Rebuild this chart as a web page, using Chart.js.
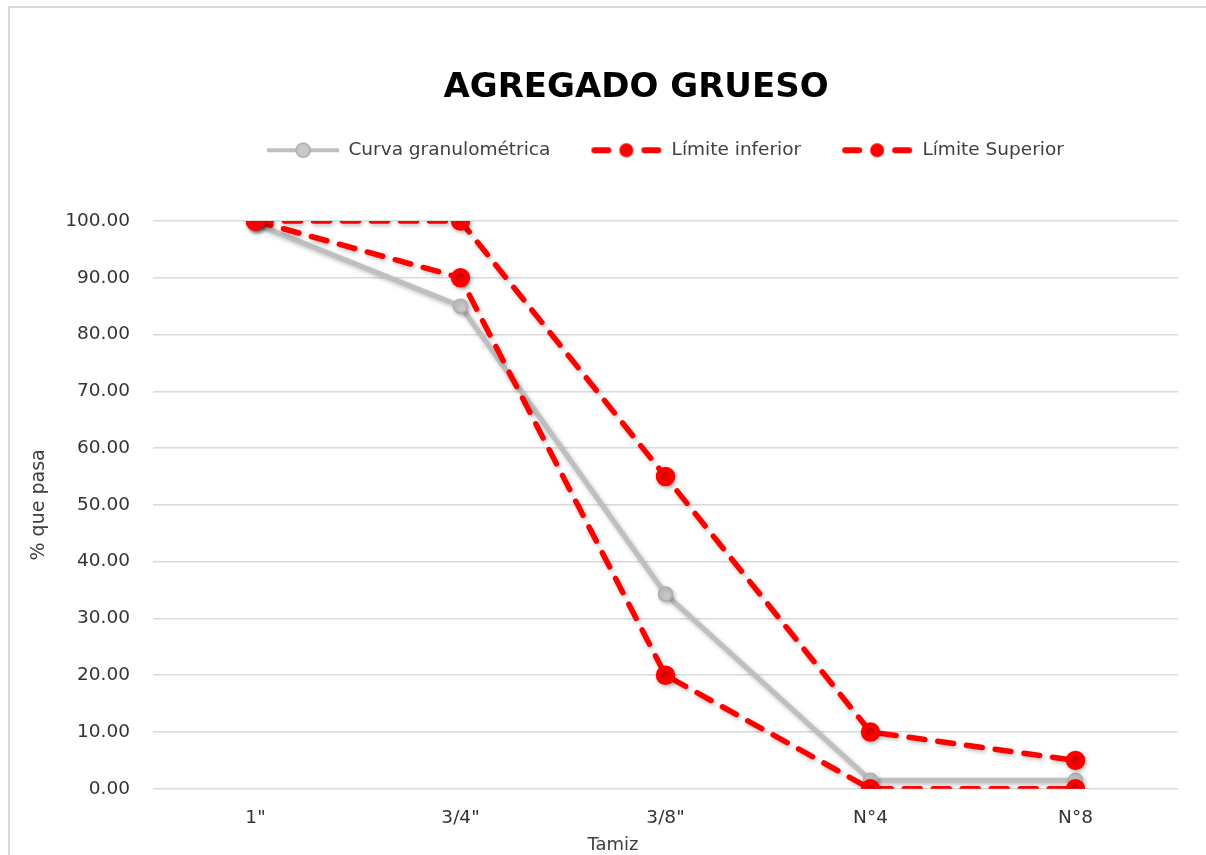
<!DOCTYPE html>
<html>
<head>
<meta charset="utf-8">
<script src="https://cdn.jsdelivr.net/npm/chart.js@4.4.1/dist/chart.umd.min.js"></script>
<style>
  html, body { margin: 0; padding: 0; background: #fff; overflow: hidden; }
  .wrap { position: relative; width: 1206px; height: 855px; overflow: hidden; }
  .frame {
    position: absolute; left: 8px; top: 6px; width: 1400px; height: 1200px;
    border-left: 2px solid #d9d9d9; border-top: 2px solid #d9d9d9;
    pointer-events: none;
  }
</style>
</head>
<body>
<div class="wrap">
  <canvas id="myChart"></canvas>
  <div class="frame"></div>
</div>
<script>
const categories = ['1"', '3/4"', '3/8"', 'N°4', 'N°8'];
const curva = [99.5, 85.0, 34.3, 1.5, 1.5];
const limiteInferior = [100, 90, 20, 0, 0];
const limiteSuperior = [100, 100, 55, 10, 5];
const yTicks = [0, 10, 20, 30, 40, 50, 60, 70, 80, 90, 100];

const FONT = 'DejaVu Sans';
const GRAY = '#bfbfbf';
const RED = '#ff0000';

// small legend icons: line + marker like excel
function makeIcon(color, dashed, fill) {
  const c = document.createElement('canvas');
  c.width = 72;
  c.height = 18;
  const g = c.getContext('2d');
  g.strokeStyle = color;
  g.lineWidth = dashed ? 6 : 4;
  g.lineCap = dashed ? 'round' : 'butt';
  g.beginPath();
  if (dashed) {
    g.moveTo(4, 9); g.lineTo(18, 9);
    g.moveTo(54, 9); g.lineTo(68, 9);
  } else {
    g.moveTo(0, 9); g.lineTo(72, 9);
  }
  g.stroke();
  g.beginPath();
  g.arc(36, 9, 7, 0, Math.PI * 2);
  g.fillStyle = fill;
  g.fill();
  if (!dashed) {
    g.lineWidth = 1.5;
    g.strokeStyle = '#a8a8a8';
    g.stroke();
  }
  return c;
}

const icons = [
  makeIcon(GRAY, false, '#c8c8c8'),
  makeIcon(RED, true, RED),
  makeIcon(RED, true, RED),
];

// title + x axis title placed like the excel chart
const textPlugin = {
  id: 'excelText',
  afterDraw(chart) {
    const c = chart.ctx;
    c.save();
    c.textAlign = 'center';
    c.textBaseline = 'middle';
    c.fillStyle = '#000';
    c.font = `bold 34px "${FONT}"`;
    c.fillText('AGREGADO GRUESO', 636, 88);
    c.fillStyle = '#404040';
    c.font = `18px "${FONT}"`;
    c.fillText('Tamiz', 613, 845);
    c.restore();
  },
};

// soft drop shadow on the series
const shadowPlugin = {
  id: 'shadow',
  beforeDatasetsDraw(chart) {
    const c = chart.ctx;
    c.save();
    c.shadowColor = 'rgba(0, 0, 0, 0.25)';
    c.shadowBlur = 4;
    c.shadowOffsetX = 1.5;
    c.shadowOffsetY = 2;
  },
  afterDatasetsDraw(chart) {
    chart.ctx.restore();
  },
};

const ctx = document.getElementById('myChart').getContext('2d');

const chart = new Chart(ctx, {
  type: 'line',
  data: {
    labels: categories,
    datasets: [
      {
        label: 'Curva granulométrica',
        data: curva,
        borderColor: GRAY,
        borderWidth: 5,
        pointRadius: 7,
        pointBackgroundColor: '#c8c8c8',
        pointBorderColor: '#adadad',
        pointBorderWidth: 1.5,
        order: 3,
      },
      {
        label: 'Límite inferior',
        data: limiteInferior,
        borderColor: RED,
        borderWidth: 5.5,
        borderDash: [16, 13],
        borderCapStyle: 'round',
        pointRadius: 7,
        pointBackgroundColor: RED,
        pointBorderColor: RED,
        order: 2,
      },
      {
        label: 'Límite Superior',
        data: limiteSuperior,
        borderColor: RED,
        borderWidth: 5.5,
        borderDash: [16, 13],
        borderCapStyle: 'round',
        pointRadius: 7,
        pointBackgroundColor: RED,
        pointBorderColor: RED,
        order: 1,
      },
    ],
  },
  options: {
    responsive: true,
    maintainAspectRatio: false,
    animation: false,
    layout: {
      padding: { top: 101, left: 0, right: 28, bottom: 8 },
    },
    scales: {
      x: {
        offset: true,
        grid: { display: false, drawTicks: false },
        border: { display: false },
        ticks: {
          padding: 18,
          color: '#333',
          font: { family: FONT, size: 18.5 },
        },
      },
      y: {
        min: 0,
        max: 100,
        afterFit: (scale) => {
          scale.width = 153;
        },
        afterBuildTicks: (scale) => {
          scale.ticks = yTicks.map((v) => ({ value: v }));
        },
        grid: { color: '#d9d9d9', lineWidth: 1.5, drawTicks: false },
        border: { display: false },
        ticks: {
          padding: 23,
          color: '#333',
          font: { family: FONT, size: 18.5 },
          callback: (v) => Number(v).toFixed(2),
        },
        title: {
          display: true,
          text: '% que pasa',
          color: '#404040',
          padding: { top: 28, bottom: 0 },
          font: { family: FONT, size: 19 },
        },
      },
    },
    plugins: {
      legend: {
        position: 'top',
        fullSize: false,
        labels: {
          usePointStyle: true,
          pointStyleWidth: 72,
          padding: 40,
          color: '#404040',
          font: { family: FONT, size: 18.5 },
          sort: (a, b) => a.datasetIndex - b.datasetIndex,
          generateLabels: (ch) => {
            const items = Chart.defaults.plugins.legend.labels.generateLabels(ch);
            items.forEach((item) => {
              item.pointStyle = icons[item.datasetIndex];
            });
            return items;
          },
        },
      },
      // empty box used as gap between legend and plot
      subtitle: {
        display: true,
        text: ' ',
        weight: 500,
        font: { size: 10 },
        padding: { top: 0, bottom: 39.5 },
      },
      tooltip: { enabled: false },
    },
  },
  plugins: [textPlugin, shadowPlugin],
});
</script>
</body>
</html>
